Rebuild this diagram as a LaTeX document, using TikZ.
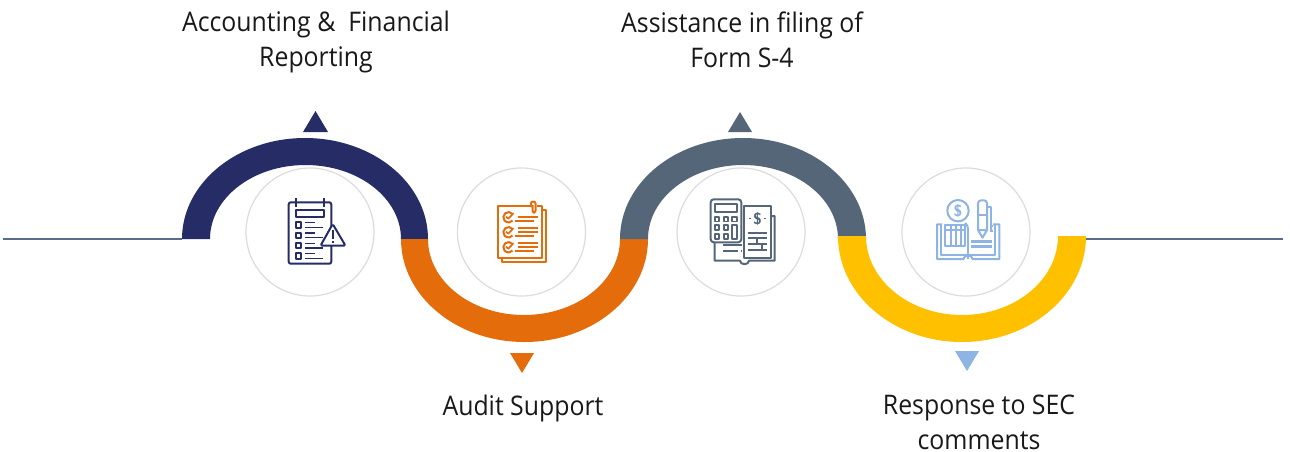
\documentclass[tikz,border=0pt]{standalone}
\usepackage{fontspec}
\setmainfont{Open Sans}[FakeStretch=0.92]
\definecolor{navyarc}{HTML}{262C66}
\definecolor{orangearc}{HTML}{E46C0A}
\definecolor{slatearc}{HTML}{556679}
\definecolor{yellowarc}{HTML}{FFC000}
\definecolor{bluetip}{HTML}{8EB4E3}
\definecolor{ringgrey}{HTML}{DCDCDC}
\definecolor{railblue}{HTML}{5B6B8C}
\begin{document}
\begin{tikzpicture}[x=1pt,y=-1pt,
    rail/.style = {draw=railblue, line width=1.3pt},
    ring/.style = {draw=ringgrey, line width=1.2pt, fill=white},
     tip/.style = {line join=miter},
     lbl/.style = {font=\fontsize{27}{35.5}\selectfont, align=center, text=black!90, inner sep=0pt},
    icon/.style = {line width=2pt, line join=round, line cap=butt},
    icbar/.style = {line width=2.3pt},
  dollar/.style = {inner sep=0pt, font=\sffamily\bfseries\fontsize{#1}{#1}\selectfont}
                    ]
\useasboundingbox (0,0) rectangle (1290,451);
\fill[white] (0,0) rectangle (1290,451);
% base line, both sides
\coordinate (railA) at (3,239);
\coordinate (railB) at (182,239);
\coordinate (railC) at (1086,239);
\coordinate (railD) at (1283,239);
\draw[rail] (railA) -- (railB);
\draw[rail] (railC) -- (railD);
% the four bands
\fill[navyarc]   (182,239) arc[start angle=180,end angle=360,x radius=123,y radius=101]
    -- (401,239) arc[start angle=360,end angle=180,x radius=95.5,y radius=74] -- cycle;
\fill[orangearc] (401,239) arc[start angle=180,end angle=0,x radius=123.5,y radius=103]
    -- (620,239) arc[start angle=0,end angle=180,x radius=96,y radius=76] -- cycle;
\fill[slatearc]  (620,239) arc[start angle=180,end angle=360,x radius=123,y radius=101]
    -- (838,239) arc[start angle=360,end angle=180,x radius=95,y radius=74] -- cycle;
\fill[yellowarc] (838,236) arc[start angle=180,end angle=0,x radius=124,y radius=106]
    -- (1058,236) arc[start angle=0,end angle=180,x radius=96,y radius=79] -- cycle;
% markers
\fill[navyarc,tip]   (315.5,111) -- (328,132) -- (303,132) -- cycle;
\fill[orangearc,tip] (510,353) -- (534,353) -- (522,373) -- cycle;
\fill[slatearc,tip]  (740,112) -- (752,132) -- (728,132) -- cycle;
\fill[bluetip,tip]   (955,351) -- (979,351) -- (967,371) -- cycle;
% circles
\node (ringA) [ring,circle,minimum size=128pt,inner sep=0pt] at (310,232)   {};
\node (ringB) [ring,circle,minimum size=128pt,inner sep=0pt] at (521.5,232) {};
\node (ringC) [ring,circle,minimum size=128pt,inner sep=0pt] at (741,232)   {};
\node (ringD) [ring,circle,minimum size=128pt,inner sep=0pt] at (966,232)   {};
% labels
\node (lblA) [lbl] at (316,42)  {Accounting \&\ \ Financial\\Reporting};
\node (lblB) [lbl] at (523,408) {Audit Support};
\node (lblC) [lbl] at (742,40)  {Assistance in filing of\\Form S-4};
\node (lblD) [lbl] at (979,422.5) {Response to SEC\\comments};
% icon 1: checklist and warning sign
\begin{scope}[icon,draw=navyarc]
\draw[rounded corners=2pt] (288.7,202.3) rectangle (331.3,263.7);
\draw (296,198) -- (296,207) (324,198) -- (324,207);
\draw (295.7,210) rectangle (324,217.3);
\foreach \yy in {222.3,232.7,243,253.3} {
  \draw (295.7,\yy) rectangle (301,\yy+5.3);
  \draw[line width=1.5pt] (305,\yy+0.3) -- (315,\yy+0.3) (305,\yy+5) -- (322.7,\yy+5);
}
\draw[fill=white,rounded corners=1.5pt] (332.7,224) -- (345.5,245.7) -- (320.5,245.7) -- cycle;
\draw (332.7,230) -- (332.7,238.5) (332.7,240.5) -- (332.7,243);
\end{scope}
% icon 2: papers with clip
\begin{scope}[icon,draw=orangearc]
\draw (542.3,210) -- (545.7,210) -- (545.7,262) -- (501.7,262) -- (501.7,257.7);
\draw (530,205.7) -- (497.7,205.7) -- (497.7,257.7) -- (542.3,257.7) -- (542.3,205.7) -- (537,205.7);
\draw[rounded corners=2pt] (531,207) -- (531,201.5) -- (535.5,201.5) -- (535.5,212.5) -- (532.5,212.5) -- (532.5,205);
\foreach \yy in {216.7,231.7,246.7} {
  \draw (512.5,\yy-2.8) arc[start angle=-40,end angle=-320,radius=5.2];
  \draw[line width=1.7pt] (506,\yy) -- (508.3,\yy+2) -- (513.5,\yy-3.5);
}
\draw[icbar] (518.3,217.3) -- (537.7,217.3) (515,221.3) -- (534,221.3);
\foreach \yy in {228.3,243.3} {
  \draw[icbar] (518.3,\yy) -- (537.7,\yy) (518.3,\yy+4) -- (537.7,\yy+4) (515,\yy+8) -- (534,\yy+8);
}
\end{scope}
% icon 3: calculator and ledger
\begin{scope}[icon,draw=slatearc]
\draw (744,258) -- (744,205.7) -- (770.7,205.7) -- (770.7,258) -- cycle;
\draw (770.7,216) -- (774.7,216) -- (774.7,260.7) -- (749,260.7) arc[start angle=0,end angle=180,x radius=4.5,y radius=3.5]
      -- (714.7,260.7) -- (714.7,242.3);
\draw[rounded corners=3pt] (710.7,199.3) rectangle (741.3,242.3);
\draw (715.3,204) rectangle (737.3,212.3);
\foreach \xx in {714.7,723.7} \foreach \yy in {216.7,225.3,234}
  \draw[line width=1.7pt] (\xx,\yy) rectangle +(4.6,4.9);
\draw[line width=1.7pt] (732.3,216.7) rectangle +(4.6,4.9);
\draw[line width=1.7pt] (732.3,225.3) rectangle (736.9,238.9);
\node (usdC) [dollar=16,text=slatearc] at (757.5,218.5) {\$};
\draw[line width=1.8pt] (749,218.5) -- (751,218.5) (764,218.5) -- (766,218.5);
\draw[icbar] (748,233.3) -- (767,233.3);
\draw[line width=1.5pt] (748,238) -- (767,238) (748,244) -- (767,244) (748,250) -- (767,250)
      (757,238) -- (757,244) (762,244) -- (762,250);
\draw[icbar] (722.7,245) -- (742,245);
\draw[line width=1.5pt] (722.7,251) -- (738,251) (741,251) -- (742,251);
\end{scope}
% icon 4: book, coin and pen
\begin{scope}[icon,draw=bluetip]
\draw (958,210.7) circle (10.7);
\node (usdD) [dollar=16,text=bluetip] at (958,211) {\$};
\draw (942,224.3) -- (937,224.3) -- (937,259) -- (963.5,259) arc[start angle=180,end angle=360,x radius=4.5,y radius=3.5]
      -- (999.3,259) -- (999.3,224.3) -- (993,224.3);
\draw (941.3,224.3) -- (941.3,254.5) -- (968,254.5) -- (968,229) (968,254.5) -- (995,254.5) -- (995,224.3);
\draw (968,229) arc[start angle=0,end angle=-50,radius=8];
\draw (968,254.5) -- (968,259);
\draw (945.3,225) rectangle (965,246);
\draw (950.5,225) -- (950.5,246) (955.5,225) -- (955.5,246) (960.5,225) -- (960.5,246);
\draw (945.3,230) -- (965,230);
\draw[fill=white,rounded corners=3pt] (978,230) -- (978,200.3) -- (987,200.3) -- (987,230);
\draw[fill=white] (978,230) -- (982.5,237.7) -- (987,230) -- cycle;
\draw (978,215) -- (987,215);
\draw (987,206.5) -- (991,206.5) -- (991,231);
\draw[icbar] (971,241.5) -- (992,241.5) (971,246.5) -- (992,246.5);
\draw[line width=1.6pt] (990,226) -- (993,226) (990,231) -- (993,231);
\end{scope}
\end{tikzpicture}
\end{document}
